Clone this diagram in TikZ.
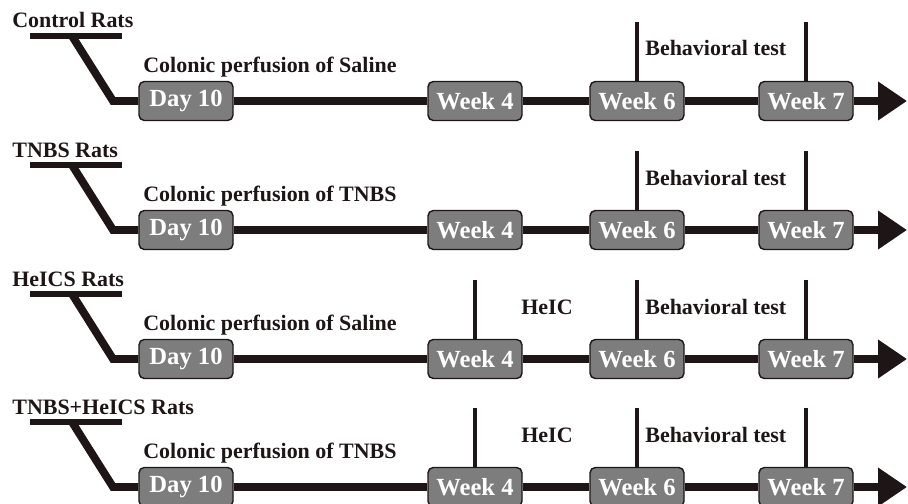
\documentclass[tikz,border=0pt]{standalone}
\usepackage{fontspec}
\setmainfont{Liberation Serif}
\usetikzlibrary{arrows.meta}

\definecolor{railcol}{RGB}{30,22,22}
\definecolor{stagegray}{RGB}{125,125,125}

\tikzset{
  stage/.style={draw=railcol, line width=0.8pt, fill=stagegray, rounded corners=3pt,
    minimum width=1.88cm, minimum height=0.78cm, inner sep=0pt, text=white,
    font=\bfseries\fontsize{14}{14}\selectfont},
  rail/.style={draw=railcol, line width=4.5pt},
  bar/.style={draw=railcol, line width=3.8pt},
  tickline/.style={draw=railcol, line width=2pt},
  note/.style={text=railcol, inner sep=0pt, font=\bfseries\fontsize{12.5}{14}\selectfont},
}

\begin{document}
\begin{tikzpicture}[x=0.2mm, y=-0.2mm]
		\useasboundingbox (0,0) rectangle (908,503);
		
		% one row per group, \t is the y of its time line
		\foreach \t/\grp/\agent/\heic in {101/Control Rats/Saline/0, 230/TNBS Rats/TNBS/0,
			359/HeICS Rats/Saline/1, 487/TNBS+HeICS Rats/TNBS/1}
		{
			\node[note, anchor=base west] (title\t) at (12,\t-73) {\grp};
			\coordinate (barl\t) at (30,\t-65);
			\coordinate (barr\t) at (122,\t-65);
			\coordinate (bend\t) at (72,\t-65);
			\coordinate (knee\t) at (113,\t);
			\coordinate (tip\t) at (907,\t);
			\coordinate (up\t) at (0,\t-79);
			
			\node[stage] (day\t) at (186,\t) {Day 10};
			\node[stage] (wkfour\t) at (475,\t) {Week 4};
			\node[stage] (wksix\t) at (637,\t) {Week 6};
			\node[stage] (wkseven\t) at (806,\t) {Week 7};
			
			\node[note, anchor=base west] (perf\t) at (143,\t-29) {Colonic perfusion of \agent};
			\node[note, anchor=base west] (beh\t) at (645,\t-45) {Behavioral test};
			
			\draw[bar] (barl\t) -- (barr\t);
			\draw[rail] (bend\t) -- (knee\t) -- (day\t.west);
			\draw[rail] (day\t.east) -- (wkfour\t.west);
			\draw[rail] (wkfour\t.east) -- (wksix\t.west);
			\draw[rail] (wksix\t.east) -- (wkseven\t.west);
			\draw[rail, -{Triangle[length=0.58cm, width=0.74cm]}] (wkseven\t.east) -- (tip\t);
			
			\draw[tickline] (wksix\t.north) -- (wksix\t.north |- up\t);
			\draw[tickline] (wkseven\t.north) -- (wkseven\t.north |- up\t);
			
			\ifnum\heic=1
				\node[note, anchor=base] (heic\t) at (547,\t-45) {HeIC};
				\draw[tickline] (wkfour\t.north) -- (wkfour\t.north |- up\t);
			\fi
		}

	\end{tikzpicture}
\end{document}
